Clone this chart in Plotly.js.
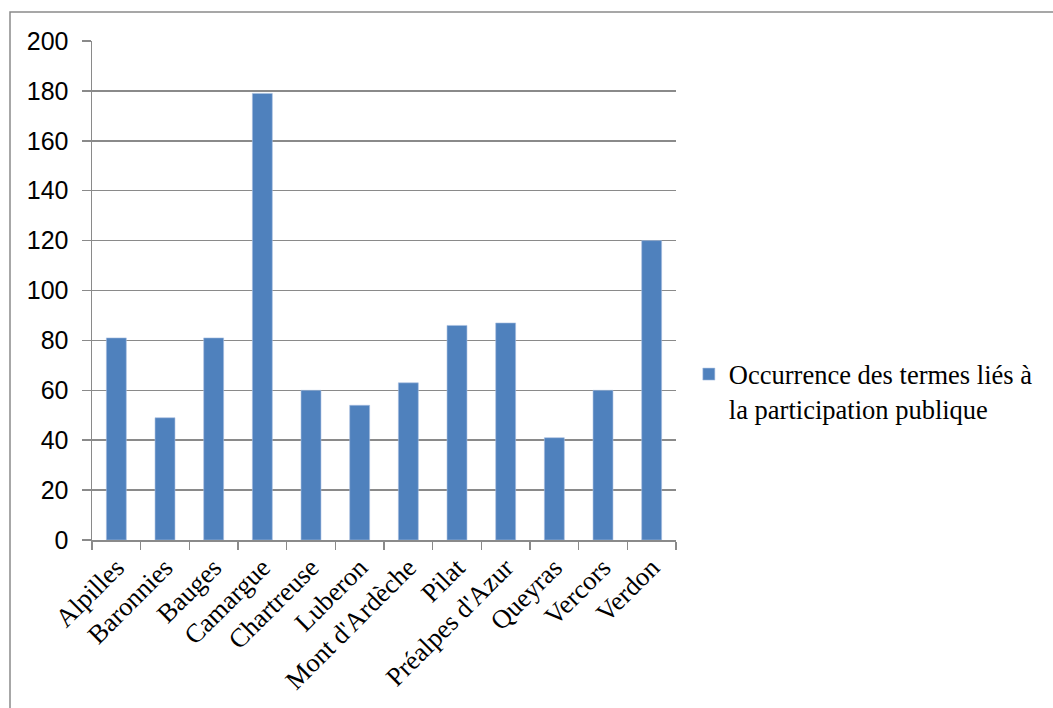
<!DOCTYPE html>
<html>
<head>
<meta charset="utf-8">
<script src="https://cdn.plot.ly/plotly-3.0.1.min.js"></script>
<style>
html,body{margin:0;padding:0;background:#fff;}
#chart{width:1053px;height:708px;}
</style>
</head>
<body>
<div id="chart"></div>
<script>
const categories = ["Alpilles","Baronnies","Bauges","Camargue","Chartreuse","Luberon","Mont d'Ardèche","Pilat","Préalpes d'Azur","Queyras","Vercors","Verdon"];
const occurrences = [81, 49, 81, 179, 60, 54, 63, 86, 87, 41, 60, 120];
const seriesName = "Occurrence des termes liés à<br>la participation publique";
const yTicks = [0, 20, 40, 60, 80, 100, 120, 140, 160, 180, 200];

const gridColor = '#8a8a8a';

const trace = {
  type: 'bar',
  x: categories,
  y: occurrences,
  name: seriesName,
  marker: {color: '#4f81bd', line: {color: '#a9c0e0', width: 0.6}},
  hoverinfo: 'x+y'
};

const layout = {
  width: 1053,
  height: 708,
  margin: {l: 92, r: 377, t: 41, b: 167.5, pad: 0},
  paper_bgcolor: '#ffffff',
  plot_bgcolor: '#ffffff',
  showlegend: true,
  bargap: 0.59,
  xaxis: {
    type: 'category',
    tickson: 'boundaries',
    ticks: 'outside',
    ticklen: 8,
    tickwidth: 1.5,
    tickcolor: gridColor,
    showline: true,
    linecolor: gridColor,
    linewidth: 1.5,
    showgrid: false,
    tickangle: -45,
    tickfont: {family: '"Liberation Serif", "Times New Roman", serif', size: 26.5, color: '#000'}
  },
  yaxis: {
    range: [0, 200],
    tickvals: yTicks,
    ticktext: yTicks.map(String),
    ticks: 'outside',
    ticklen: 9,
    tickwidth: 1.5,
    tickcolor: gridColor,
    showline: true,
    linecolor: gridColor,
    linewidth: 1.5,
    showgrid: true,
    gridcolor: gridColor,
    gridwidth: 1.5,
    zeroline: false,
    ticklabelstandoff: 8,
    tickfont: {family: '"Liberation Sans", Arial, sans-serif', size: 25, color: '#000'}
  },
  legend: {
    x: 1.022,
    xanchor: 'left',
    y: 0.38,
    yanchor: 'top',
    valign: 'top',
    bgcolor: 'rgba(0,0,0,0)',
    borderwidth: 0,
    font: {family: '"Liberation Serif", "Times New Roman", serif', size: 26.5, color: '#000'}
  },
  shapes: [{
    type: 'rect',
    xref: 'paper', yref: 'paper',
    x0: (10 - 92) / 584, x1: (1080 - 92) / 584,
    y0: (540.5 - 740) / 499.5, y1: (540.5 - 12) / 499.5,
    line: {color: gridColor, width: 1.5},
    fillcolor: 'rgba(0,0,0,0)',
    layer: 'below'
  }]
};

Plotly.newPlot('chart', [trace], layout, {displayModeBar: false, staticPlot: true});
</script>
</body>
</html>
